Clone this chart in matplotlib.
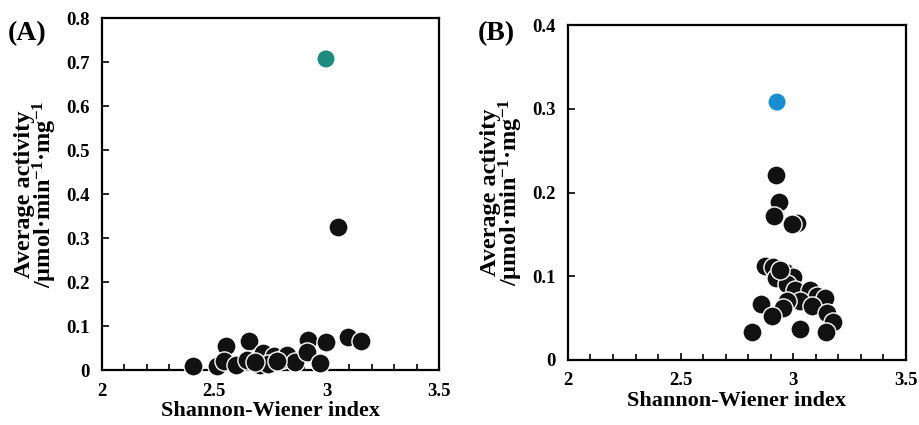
import numpy as np
import matplotlib
matplotlib.use("Agg")
import matplotlib.pyplot as plt
from matplotlib.ticker import MultipleLocator, FormatStrFormatter

plt.rcParams['font.family'] = ['Liberation Serif', 'DejaVu Serif']
plt.rcParams['font.weight'] = 'bold'
plt.rcParams['mathtext.fontset'] = 'custom'
plt.rcParams['mathtext.rm'] = 'Liberation Serif:bold'
plt.rcParams['mathtext.it'] = 'Liberation Serif:bold'
plt.rcParams['mathtext.bf'] = 'Liberation Serif:bold'

# panel A: Shannon-Wiener index vs average activity
a_x = [2.404, 2.552, 2.656, 2.510, 2.543, 2.596, 2.644, 2.718, 2.765, 2.703,
       2.739, 2.806, 2.822, 2.859, 2.918, 2.911, 2.970, 2.997, 3.096, 3.151,
       2.680, 2.780, 3.050]
a_y = [0.009, 0.055, 0.067, 0.009, 0.021, 0.011, 0.023, 0.039, 0.032, 0.011,
       0.014, 0.025, 0.034, 0.019, 0.068, 0.042, 0.017, 0.064, 0.076, 0.067,
       0.018, 0.020, 0.325]
a_hi_x = [2.997]
a_hi_y = [0.707]

# panel B
b_x = [2.923, 2.938, 2.916, 3.018, 2.993, 2.874, 2.911, 2.963, 2.923, 2.999,
       2.971, 3.008, 3.074, 3.107, 3.141, 3.030, 2.971, 2.956, 2.855, 2.904,
       3.082, 3.151, 3.178, 3.145, 3.030, 2.815, 2.940]
b_y = [0.221, 0.189, 0.172, 0.164, 0.162, 0.112, 0.111, 0.105, 0.098, 0.099,
       0.091, 0.084, 0.084, 0.076, 0.074, 0.070, 0.070, 0.062, 0.067, 0.052,
       0.064, 0.056, 0.045, 0.033, 0.037, 0.033, 0.107]
b_hi_x = [2.928]
b_hi_y = [0.308]

x_label = "Shannon-Wiener index"
y_label = "Average activity\n/µmol·min$^{-1}$·mg$^{-1}$"

fig = plt.figure(figsize=(9.19, 4.25), dpi=100)
ax1 = fig.add_axes([0.111, 0.1294, 0.3667, 0.8282])
ax2 = fig.add_axes([0.618, 0.153, 0.3678, 0.788])


def style(ax, ymax, ystep):
    ax.set_xlim(2, 3.5)
    ax.set_ylim(0, ymax)
    ax.xaxis.set_major_locator(MultipleLocator(0.5))
    ax.xaxis.set_minor_locator(MultipleLocator(0.1))
    ax.yaxis.set_major_locator(MultipleLocator(ystep))
    ax.xaxis.set_major_formatter(FormatStrFormatter('%g'))
    ax.yaxis.set_major_formatter(FormatStrFormatter('%g'))
    ax.tick_params(which='both', direction='in', labelsize=13.5, width=1.2)
    ax.tick_params(which='major', length=5)
    ax.tick_params(which='minor', length=4)
    ax.tick_params(axis='x', which='both', pad=9)
    ax.tick_params(axis='y', pad=9)
    for s in ax.spines.values():
        s.set_linewidth(1.6)
    ax.set_xlabel(x_label, fontsize=16, fontweight='bold', labelpad=1)
    ax.set_ylabel(y_label, fontsize=17.5, fontweight='bold', labelpad=5,
                  linespacing=0.8)


style(ax1, 0.8, 0.1)
ax1.scatter(a_x, a_y, s=190, c='#111111', edgecolors='white', linewidths=1.0,
            zorder=3, clip_on=False)
ax1.scatter(a_hi_x, a_hi_y, s=150, c='#1f8a80', edgecolors='none', zorder=3)
fig.text(0.008, 0.905, "(A)", fontsize=20, fontweight='bold')

style(ax2, 0.4, 0.1)
ax2.scatter(b_x, b_y, s=190, c='#111111', edgecolors='white', linewidths=1.0,
            zorder=3)
ax2.scatter(b_hi_x, b_hi_y, s=150, c='#1a8fd0', edgecolors='none', zorder=3)
fig.text(0.52, 0.905, "(B)", fontsize=20, fontweight='bold')

fig.savefig("out.png", dpi=100)
